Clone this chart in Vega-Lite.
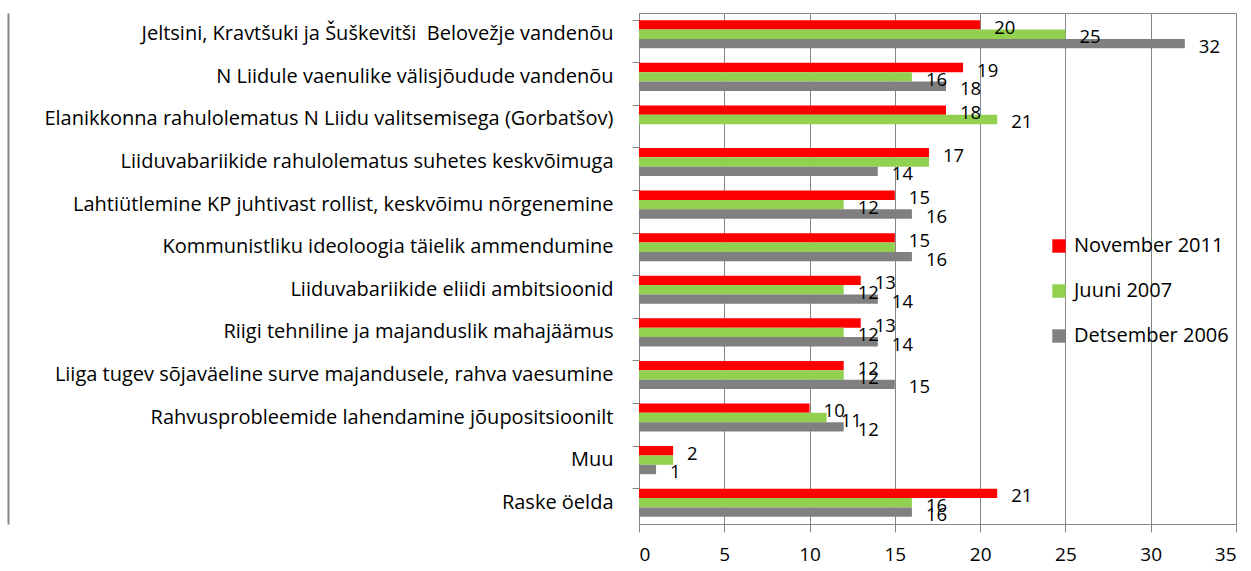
{
  "$schema": "https://vega.github.io/schema/vega-lite/v6.json",
  "autosize": {"type": "none"},
  "padding": {"left": 639, "top": 13, "right": 15, "bottom": 47},
  "width": 597,
  "height": 511,
  "background": "white",
  "config": {
    "font": "Open Sans",
    "view": {"stroke": "#868686", "strokeWidth": 1}
  },
  "data": {
    "values": [
      {"kategooria": "Jeltsini, Kravtšuki ja Šuškevitši\u00a0 Belovežje vandenõu", "seeria": "November 2011", "vaartus": 20},
      {"kategooria": "Jeltsini, Kravtšuki ja Šuškevitši\u00a0 Belovežje vandenõu", "seeria": "Juuni 2007", "vaartus": 25},
      {"kategooria": "Jeltsini, Kravtšuki ja Šuškevitši\u00a0 Belovežje vandenõu", "seeria": "Detsember 2006", "vaartus": 32},
      {"kategooria": "N Liidule vaenulike välisjõudude vandenõu", "seeria": "November 2011", "vaartus": 19},
      {"kategooria": "N Liidule vaenulike välisjõudude vandenõu", "seeria": "Juuni 2007", "vaartus": 16},
      {"kategooria": "N Liidule vaenulike välisjõudude vandenõu", "seeria": "Detsember 2006", "vaartus": 18},
      {"kategooria": "Elanikkonna rahulolematus N Liidu valitsemisega (Gorbatšov)", "seeria": "November 2011", "vaartus": 18},
      {"kategooria": "Elanikkonna rahulolematus N Liidu valitsemisega (Gorbatšov)", "seeria": "Juuni 2007", "vaartus": 21},
      {"kategooria": "Liiduvabariikide rahulolematus suhetes keskvõimuga", "seeria": "November 2011", "vaartus": 17},
      {"kategooria": "Liiduvabariikide rahulolematus suhetes keskvõimuga", "seeria": "Juuni 2007", "vaartus": 17},
      {"kategooria": "Liiduvabariikide rahulolematus suhetes keskvõimuga", "seeria": "Detsember 2006", "vaartus": 14},
      {"kategooria": "Lahtiütlemine KP juhtivast rollist, keskvõimu nõrgenemine", "seeria": "November 2011", "vaartus": 15},
      {"kategooria": "Lahtiütlemine KP juhtivast rollist, keskvõimu nõrgenemine", "seeria": "Juuni 2007", "vaartus": 12},
      {"kategooria": "Lahtiütlemine KP juhtivast rollist, keskvõimu nõrgenemine", "seeria": "Detsember 2006", "vaartus": 16},
      {"kategooria": "Kommunistliku ideoloogia täielik ammendumine", "seeria": "November 2011", "vaartus": 15},
      {"kategooria": "Kommunistliku ideoloogia täielik ammendumine", "seeria": "Juuni 2007", "vaartus": 15},
      {"kategooria": "Kommunistliku ideoloogia täielik ammendumine", "seeria": "Detsember 2006", "vaartus": 16},
      {"kategooria": "Liiduvabariikide eliidi ambitsioonid", "seeria": "November 2011", "vaartus": 13},
      {"kategooria": "Liiduvabariikide eliidi ambitsioonid", "seeria": "Juuni 2007", "vaartus": 12},
      {"kategooria": "Liiduvabariikide eliidi ambitsioonid", "seeria": "Detsember 2006", "vaartus": 14},
      {"kategooria": "Riigi tehniline ja majanduslik mahajäämus", "seeria": "November 2011", "vaartus": 13},
      {"kategooria": "Riigi tehniline ja majanduslik mahajäämus", "seeria": "Juuni 2007", "vaartus": 12},
      {"kategooria": "Riigi tehniline ja majanduslik mahajäämus", "seeria": "Detsember 2006", "vaartus": 14},
      {"kategooria": "Liiga tugev sõjaväeline surve majandusele, rahva vaesumine", "seeria": "November 2011", "vaartus": 12},
      {"kategooria": "Liiga tugev sõjaväeline surve majandusele, rahva vaesumine", "seeria": "Juuni 2007", "vaartus": 12},
      {"kategooria": "Liiga tugev sõjaväeline surve majandusele, rahva vaesumine", "seeria": "Detsember 2006", "vaartus": 15},
      {"kategooria": "Rahvusprobleemide lahendamine jõupositsioonilt", "seeria": "November 2011", "vaartus": 10},
      {"kategooria": "Rahvusprobleemide lahendamine jõupositsioonilt", "seeria": "Juuni 2007", "vaartus": 11},
      {"kategooria": "Rahvusprobleemide lahendamine jõupositsioonilt", "seeria": "Detsember 2006", "vaartus": 12},
      {"kategooria": "Muu", "seeria": "November 2011", "vaartus": 2},
      {"kategooria": "Muu", "seeria": "Juuni 2007", "vaartus": 2},
      {"kategooria": "Muu", "seeria": "Detsember 2006", "vaartus": 1},
      {"kategooria": "Raske öelda", "seeria": "November 2011", "vaartus": 21},
      {"kategooria": "Raske öelda", "seeria": "Juuni 2007", "vaartus": 16},
      {"kategooria": "Raske öelda", "seeria": "Detsember 2006", "vaartus": 16}
    ]
  },
  "encoding": {
    "x": {
      "field": "vaartus",
      "type": "quantitative",
      "scale": {"domain": [0, 35], "nice": false},
      "axis": {
        "title": null,
        "values": [0, 5, 10, 15, 20, 25, 30, 35],
        "grid": true,
        "gridColor": "#868686",
        "gridOpacity": 1,
        "domainColor": "#868686",
        "tickColor": "#868686",
        "tickSize": 8,
        "labelPadding": 13,
        "labelFontSize": 19,
        "labelColor": "#000000",
        "labelFont": "Open Sans"
      }
    },
    "yOffset": {
      "field": "seeria",
      "type": "nominal",
      "sort": ["November 2011", "Juuni 2007", "Detsember 2006"],
      "scale": {"paddingInner": 0, "paddingOuter": 0}
    }
  },
  "layer": [
    {
      "mark": {"type": "bar"},
      "encoding": {
        "y": {
          "field": "kategooria",
          "type": "nominal",
          "sort": null,
          "scale": {"paddingInner": 0.34, "paddingOuter": 0.17},
          "axis": {
            "title": null,
            "bandPosition": 0,
            "domainColor": "#868686",
            "tickColor": "#868686",
            "tickSize": 7,
            "labelPadding": 19,
            "labelLimit": 700,
            "labelFontSize": 20,
            "labelColor": "#000000",
            "labelFont": "Open Sans"
          }
        },
        "color": {
          "field": "seeria",
          "type": "nominal",
          "sort": ["November 2011", "Juuni 2007", "Detsember 2006"],
          "scale": {
            "domain": ["November 2011", "Juuni 2007", "Detsember 2006"],
            "range": ["#FF0000", "#92D050", "#808080"]
          },
          "legend": {
            "title": null,
            "orient": "none",
            "legendX": 410,
            "legendY": 223,
            "symbolType": "square",
            "symbolSize": 180,
            "symbolStrokeWidth": 0,
            "symbolOpacity": 1,
            "labelFontSize": 20,
            "labelFont": "Open Sans",
            "labelColor": "#000000",
            "labelOffset": 5,
            "rowPadding": 25,
            "labelLimit": 300
          }
        }
      }
    },
    {
      "transform": [
        {"filter": "!(datum.seeria == 'Juuni 2007' && (datum.kategooria == 'Liiduvabariikide rahulolematus suhetes keskvõimuga' || datum.kategooria == 'Kommunistliku ideoloogia täielik ammendumine' || datum.kategooria == 'Muu'))"}
      ],
      "mark": {"type": "text", "align": "left", "baseline": "middle", "dx": 14, "dy": 3, "fontSize": 18.5, "font": "Open Sans", "color": "#000000"},
      "encoding": {
        "y": {
          "field": "kategooria",
          "type": "nominal",
          "sort": null,
          "axis": {
            "title": null,
            "orient": "left",
            "offset": 631,
            "labels": false,
            "ticks": false,
            "domain": true,
            "domainColor": "#868686",
            "domainWidth": 2
          }
        },
        "text": {"field": "vaartus", "type": "quantitative"}
      }
    }
  ],
  "resolve": {"axis": {"y": "independent"}}
}
